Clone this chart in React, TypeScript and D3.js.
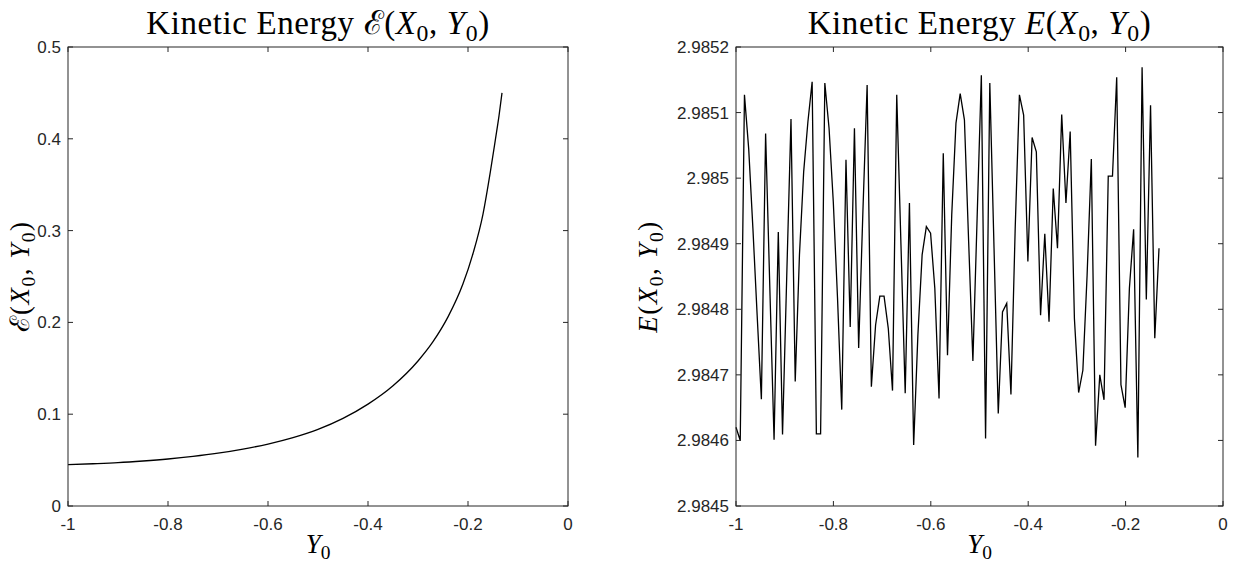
import React from "react";
import * as d3 from "d3";

// shared axis ticks
const xTicks = [-1, -0.8, -0.6, -0.4, -0.2, 0];
const leftYTicks = [0, 0.1, 0.2, 0.3, 0.4, 0.5];
const rightYTicks = [2.9845, 2.9846, 2.9847, 2.9848, 2.9849, 2.985, 2.9851, 2.9852];

// left panel: smooth curve
const curveY0 = [-1.0, -0.95, -0.9, -0.85, -0.8, -0.75, -0.7, -0.65, -0.6, -0.55, -0.5, -0.45, -0.4,
  -0.35, -0.3, -0.27, -0.24, -0.21, -0.19, -0.17, -0.155, -0.145, -0.138, -0.132];
const curveEnergy = [0.045, 0.046, 0.0472, 0.049, 0.0512, 0.054, 0.0575, 0.062, 0.0675, 0.0745, 0.0835,
  0.0955, 0.111, 0.131, 0.158, 0.179, 0.206, 0.242, 0.275, 0.318, 0.365, 0.4, 0.425, 0.45];

// right panel: noisy energy on an even Y0 grid from -1 to about -0.131
const noisyStart = -1;
const noisyEnd = -0.1314;
const noisyEnergy = [
  2.98462, 2.9846, 2.985127, 2.985045, 2.984923, 2.984791, 2.984663, 2.985068, 2.984832, 2.984601,
  2.984918, 2.984609, 2.984852, 2.98509, 2.98469, 2.984883, 2.98501, 2.985086, 2.985147, 2.98461,
  2.98461, 2.985145, 2.985076, 2.984964, 2.984817, 2.984647, 2.985028, 2.984773, 2.985076, 2.984741,
  2.984949, 2.985142, 2.984682, 2.984776, 2.98482, 2.98482, 2.984771, 2.984676, 2.985127, 2.984898,
  2.984672, 2.984962, 2.984593, 2.984761, 2.984883, 2.984926, 2.984916, 2.984832, 2.984664, 2.985038,
  2.98473, 2.984944, 2.985084, 2.985129, 2.985089, 2.984903, 2.984721, 2.984939, 2.985157, 2.984603,
  2.985145, 2.984893, 2.984641, 2.984796, 2.984809, 2.98467, 2.984923, 2.985127, 2.985096, 2.984873,
  2.985062, 2.98504, 2.984791, 2.984915, 2.984781, 2.984984, 2.984893, 2.985097, 2.984962, 2.985071,
  2.984786, 2.984673, 2.984707, 2.984852, 2.985029, 2.984592, 2.9847, 2.984662, 2.985003, 2.985003,
  2.985154, 2.984685, 2.98465, 2.984832, 2.984922, 2.984574, 2.985169, 2.984815, 2.985111, 2.984756,
  2.984893,
];

const W = 1235;
const H = 566;
const TOP = 47;
const BOTTOM = 506;
const AXIS = "#262626";
const SERIF = "'Liberation Serif', 'Times New Roman', serif";
const SANS = "'Liberation Sans', Arial, Helvetica, sans-serif";

type Part = { t: string; i?: boolean; sub?: boolean };

const MathText = ({ parts, size, ...rest }: { parts: Part[]; size: number; [k: string]: any }) => {
  const shift = size * 0.22;
  let down = false;
  return (
    <text fontFamily={SERIF} fontSize={size} fill="#000" textAnchor="middle" {...rest}>
      {parts.map((p, i) => {
        let dy = 0;
        if (p.sub && !down) { dy = shift; down = true; }
        else if (!p.sub && down) { dy = -shift; down = false; }
        return (
          <tspan key={i} dy={dy || undefined} fontStyle={p.i ? "italic" : undefined}
            fontSize={p.sub ? size * 0.72 : undefined}>{p.t}</tspan>
        );
      })}
    </text>
  );
};

const args: Part[] = [
  { t: "(" }, { t: "X", i: true }, { t: "0", sub: true }, { t: ", " },
  { t: "Y", i: true }, { t: "0", sub: true }, { t: ")" },
];

const fmt = (v: number) => String(+v.toFixed(4));

const Panel = ({ left, right, yTicks, points, title, ylabel, smooth, labelX }: any) => {
  const x = d3.scaleLinear().domain([-1, 0]).range([left, right]);
  const y = d3.scaleLinear().domain([yTicks[0], yTicks[yTicks.length - 1]]).range([BOTTOM, TOP]);
  const line = d3.line<[number, number]>()
    .x(d => x(d[0]))
    .y(d => y(d[1]))
    .curve(smooth ? d3.curveMonotoneX : d3.curveLinear);
  const tl = 5;
  const cx = (left + right) / 2;
  const cy = (TOP + BOTTOM) / 2;
  return (
    <g>
      <path d={line(points) || ""} fill="none" stroke="#000" strokeWidth={1.3} />
      <rect x={left} y={TOP} width={right - left} height={BOTTOM - TOP} fill="none" stroke={AXIS} strokeWidth={1} />
      {xTicks.map(t => (
        <g key={"x" + t}>
          <line x1={x(t)} x2={x(t)} y1={BOTTOM} y2={BOTTOM - tl} stroke={AXIS} />
          <line x1={x(t)} x2={x(t)} y1={TOP} y2={TOP + tl} stroke={AXIS} />
          <text x={x(t)} y={BOTTOM + 24} textAnchor="middle" fontFamily={SANS} fontSize={17} fill={AXIS}>{fmt(t)}</text>
        </g>
      ))}
      {yTicks.map((t: number) => (
        <g key={"y" + t}>
          <line x1={left} x2={left + tl} y1={y(t)} y2={y(t)} stroke={AXIS} />
          <line x1={right} x2={right - tl} y1={y(t)} y2={y(t)} stroke={AXIS} />
          <text x={left - 7} y={y(t) + 6} textAnchor="end" fontFamily={SANS} fontSize={17} fill={AXIS}>{fmt(t)}</text>
        </g>
      ))}
      <MathText parts={title} size={33} letterSpacing={0.6} x={cx} y={34} />
      <MathText parts={[{ t: "Y", i: true }, { t: "0", sub: true }]} size={27} x={cx} y={553} />
      <MathText parts={ylabel} size={27} letterSpacing={1.5}
        transform={`translate(${labelX},${cy}) rotate(-90)`} />
    </g>
  );
};

export default function App() {
  const leftPts = curveY0.map((v, i) => [v, curveEnergy[i]] as [number, number]);
  const step = (noisyEnd - noisyStart) / (noisyEnergy.length - 1);
  const rightPts = noisyEnergy.map((v, i) => [noisyStart + i * step, v] as [number, number]);
  return (
    <svg width={W} height={H} style={{ position: "absolute", left: 0, top: 0, background: "#fff" }}>
      <rect width={W} height={H} fill="#fff" />
      <Panel left={68} right={568} yTicks={leftYTicks} points={leftPts} smooth labelX={29}
        title={[{ t: "Kinetic Energy " }, { t: "ℰ" }, ...args]}
        ylabel={[{ t: "ℰ" }, ...args]} />
      <Panel left={736} right={1223} yTicks={rightYTicks} points={rightPts} labelX={657}
        title={[{ t: "Kinetic Energy " }, { t: "E", i: true }, ...args]}
        ylabel={[{ t: "E", i: true }, ...args]} />
    </svg>
  );
}
